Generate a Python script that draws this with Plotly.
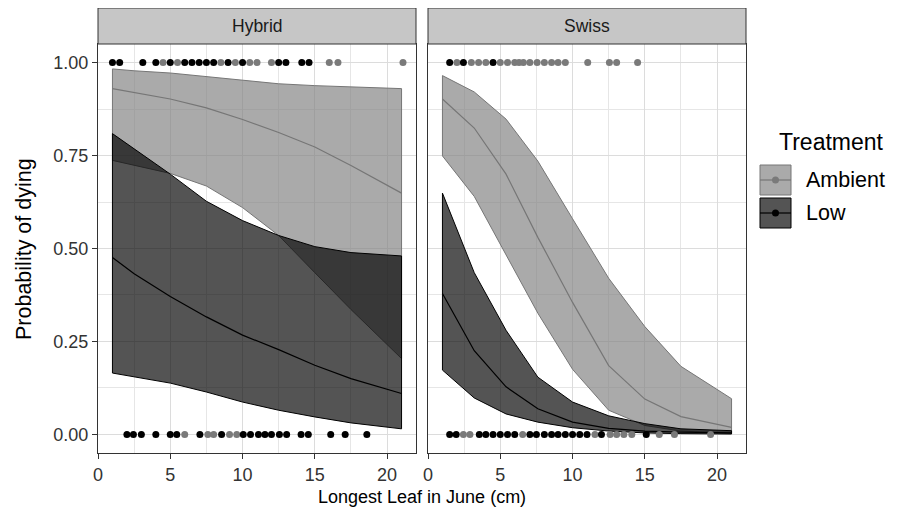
import plotly.graph_objects as go

# ---------------- data ----------------
treatments = ["Ambient", "Low"]
panels = ["Hybrid", "Swiss"]

# Observed points (x = longest leaf, y = died 0/1)
hyb_amb_dead_x = [4.5, 5.5, 8.5, 9.5, 10.5, 11.0, 12.0, 16.0, 16.6, 21.1]
hyb_low_dead_x = [1.0, 1.5, 3.1, 4.0, 5.0, 6.0, 6.5, 7.0, 7.5, 8.0, 9.0, 10.0, 12.5, 13.0, 14.1, 14.6]
hyb_amb_alive_x = [6.0, 7.6, 8.0, 9.1, 9.6]
hyb_low_alive_x = [2.0, 2.45, 3.0, 4.0, 5.0, 5.45, 7.05, 8.55, 10.05, 10.55, 11.1, 11.55, 12.0, 12.55, 13.05, 14.05, 14.55, 16.1, 17.1, 18.6]

sw_amb_dead_x = [2.0, 3.0, 3.5, 4.0, 5.0, 5.5, 6.0, 6.3, 6.6, 7.05, 7.55, 8.05, 8.55, 9.0, 9.5, 11.05, 12.55, 13.05, 14.5]
sw_low_dead_x = [1.5, 2.45, 4.5]
sw_amb_alive_x = [2.45, 2.9, 6.55, 11.55, 12.6, 13.05, 13.55, 14.1, 16.0, 17.05, 19.55]
sw_low_alive_x = [1.5, 1.95, 3.55, 4.0, 4.5, 5.0, 5.5, 6.0, 7.05, 7.5, 8.05, 8.55, 9.0, 9.5, 10.0, 10.5, 11.0, 12.0, 15.1]

# Fitted probabilities and confidence bands
hyb_grid = [1, 2.5, 5, 7.5, 10, 12.5, 15, 17.5, 21]
hyb_amb_fit = [0.930, 0.920, 0.902, 0.878, 0.847, 0.812, 0.773, 0.723, 0.649]
hyb_amb_hi = [0.983, 0.978, 0.972, 0.963, 0.954, 0.943, 0.938, 0.934, 0.930]
hyb_amb_lo = [0.737, 0.725, 0.702, 0.668, 0.610, 0.535, 0.435, 0.336, 0.204]
hyb_low_fit = [0.476, 0.432, 0.371, 0.316, 0.267, 0.228, 0.186, 0.150, 0.110]
hyb_low_hi = [0.809, 0.768, 0.700, 0.627, 0.575, 0.535, 0.505, 0.489, 0.480]
hyb_low_lo = [0.165, 0.156, 0.138, 0.114, 0.087, 0.065, 0.047, 0.031, 0.015]

sw_grid = [1, 3.2, 5.4, 7.6, 10, 12.5, 15, 17.5, 21]
sw_amb_fit = [0.902, 0.824, 0.700, 0.530, 0.355, 0.185, 0.095, 0.048, 0.019]
sw_amb_hi = [0.965, 0.921, 0.848, 0.735, 0.580, 0.420, 0.290, 0.183, 0.096]
sw_amb_lo = [0.749, 0.640, 0.485, 0.326, 0.175, 0.065, 0.024, 0.009, 0.003]
sw_low_fit = [0.379, 0.225, 0.128, 0.069, 0.033, 0.016, 0.009, 0.006, 0.004]
sw_low_hi = [0.649, 0.435, 0.280, 0.154, 0.087, 0.050, 0.029, 0.015, 0.010]
sw_low_lo = [0.173, 0.098, 0.055, 0.033, 0.018, 0.009, 0.004, 0.002, 0.001]

x_ticks = [0, 5, 10, 15, 20]
y_ticks = [0.0, 0.25, 0.5, 0.75, 1.0]
y_tick_labels = ["0.00", "0.25", "0.50", "0.75", "1.00"]

# ---------------- style ----------------
FONT = "Liberation Sans, Arial, sans-serif"
AMB_FILL = "rgba(128,128,128,0.67)"
LOW_FILL = "rgba(0,0,0,0.67)"
AMB_LINE = "#767676"
LOW_LINE = "#000000"
AMB_PT = "#7a7a7a"
LOW_PT = "#000000"
GRID = "#dcdcdc"
GRID_MINOR = "#e6e6e6"

fig = go.Figure()


def ribbon(grid, hi, lo, fill, line, xa, ya):
    fig.add_trace(go.Scatter(
        x=list(grid) + list(grid)[::-1] + [grid[0]],
        y=list(hi) + list(lo)[::-1] + [hi[0]],
        mode="lines", fill="toself", fillcolor=fill,
        line=dict(color=line, width=1), xaxis=xa, yaxis=ya,
        showlegend=False, hoverinfo="skip"))


def fitline(grid, fit, color, xa, ya):
    fig.add_trace(go.Scatter(x=grid, y=fit, mode="lines",
                             line=dict(color=color, width=1.2),
                             xaxis=xa, yaxis=ya, showlegend=False))


def pts(xs, yval, color, xa, ya):
    fig.add_trace(go.Scatter(x=xs, y=[yval] * len(xs), mode="markers",
                             marker=dict(color=color, size=7, line=dict(width=0)),
                             xaxis=xa, yaxis=ya, showlegend=False, cliponaxis=False))


# Hybrid panel
ribbon(hyb_grid, hyb_amb_hi, hyb_amb_lo, AMB_FILL, AMB_LINE, "x", "y")
ribbon(hyb_grid, hyb_low_hi, hyb_low_lo, LOW_FILL, LOW_LINE, "x", "y")
fitline(hyb_grid, hyb_amb_fit, AMB_LINE, "x", "y")
fitline(hyb_grid, hyb_low_fit, LOW_LINE, "x", "y")
pts(hyb_amb_dead_x, 1, AMB_PT, "x", "y")
pts(hyb_low_dead_x, 1, LOW_PT, "x", "y")
pts(hyb_amb_alive_x, 0, AMB_PT, "x", "y")
pts(hyb_low_alive_x, 0, LOW_PT, "x", "y")

# Swiss panel
ribbon(sw_grid, sw_amb_hi, sw_amb_lo, AMB_FILL, AMB_LINE, "x2", "y2")
ribbon(sw_grid, sw_low_hi, sw_low_lo, LOW_FILL, LOW_LINE, "x2", "y2")
fitline(sw_grid, sw_amb_fit, AMB_LINE, "x2", "y2")
fitline(sw_grid, sw_low_fit, LOW_LINE, "x2", "y2")
pts(sw_amb_dead_x, 1, AMB_PT, "x2", "y2")
pts(sw_low_dead_x, 1, LOW_PT, "x2", "y2")
pts(sw_amb_alive_x, 0, AMB_PT, "x2", "y2")
pts(sw_low_alive_x, 0, LOW_PT, "x2", "y2")

# ---------------- layout ----------------
OFF = 8  # page body margin of the browser
W, H = 901 - OFF, 515 - OFF
L = 98 - OFF
T = 44 - OFF
R = W - (746 - OFF)
B = H - (453 - OFF)
pw = W - L - R
ph = H - T - B


def px_x(p):  # page pixel -> paper x
    return (p - OFF - L) / pw


def px_y(p):  # page pixel -> paper y
    return (H - B - (p - OFF)) / ph


gap = 12 / pw
d1 = [0, (1 - gap) / 2]
d2 = [(1 + gap) / 2, 1]

tickfont = dict(family=FONT, size=18, color="#333333")
xaxis_common = dict(
    range=[0, 22], tickvals=x_ticks, ticks="outside", ticklen=5, tickwidth=1,
    tickcolor="#333333", showline=True, linecolor="#333333", linewidth=1, mirror=True,
    showgrid=True, gridcolor=GRID, gridwidth=1.2, zeroline=False, automargin=False,
    minor=dict(dtick=2.5, tick0=0, showgrid=True, gridcolor=GRID_MINOR, gridwidth=1, ticks=""),
    tickfont=tickfont,
)
yaxis_common = dict(
    range=[-0.05, 1.05], tickvals=y_ticks, ticktext=y_tick_labels,
    showline=True, linecolor="#333333", linewidth=1, mirror=True,
    showgrid=True, gridcolor=GRID, gridwidth=1.2, zeroline=False, automargin=False,
    minor=dict(dtick=0.125, tick0=0, showgrid=True, gridcolor=GRID_MINOR, gridwidth=1, ticks=""),
    tickfont=tickfont,
)

fig.update_layout(
    width=W, height=H,
    margin=dict(l=L, r=R, t=T, b=B, pad=0),
    paper_bgcolor="white", plot_bgcolor="white",
    showlegend=False,
    font=dict(family=FONT, color="#000000"),
    xaxis=dict(domain=d1, anchor="y", **xaxis_common),
    xaxis2=dict(domain=d2, anchor="y2", **xaxis_common),
    yaxis=dict(anchor="x", ticks="outside", ticklen=5, tickcolor="#333333", **yaxis_common),
    yaxis2=dict(anchor="x2", matches="y", showticklabels=False, ticks="", **yaxis_common),
)

shapes = []
annotations = []
strip_top = 1 + 36 / ph
for dom, name in [(d1, panels[0]), (d2, panels[1])]:
    shapes.append(dict(type="rect", xref="paper", yref="paper", x0=dom[0], x1=dom[1],
                       y0=1, y1=strip_top, fillcolor="#c6c6c6",
                       line=dict(color="#333333", width=1)))
    annotations.append(dict(xref="paper", yref="paper", x=(dom[0] + dom[1]) / 2,
                            y=(1 + strip_top) / 2, text=name, showarrow=False,
                            font=dict(family=FONT, size=17.5, color="#1a1a1a"),
                            xanchor="center", yanchor="middle"))

# axis titles
annotations.append(dict(xref="paper", yref="paper", x=px_x(422), y=px_y(497),
                        text="Longest Leaf in June (cm)", showarrow=False,
                        font=dict(family=FONT, size=18, color="#000"),
                        xanchor="center", yanchor="middle"))
annotations.append(dict(xref="paper", yref="paper", x=px_x(24), y=px_y(249),
                        text="Probability of dying", showarrow=False, textangle=-90,
                        font=dict(family=FONT, size=21.5, color="#000"),
                        xanchor="center", yanchor="middle"))

# legend (drawn manually)
annotations.append(dict(xref="paper", yref="paper", x=px_x(777), y=px_y(142),
                        text="Treatment", showarrow=False,
                        font=dict(family=FONT, size=23, color="#000"),
                        xanchor="left", yanchor="middle"))
keys = [(treatments[0], "#aaaaaa", AMB_LINE, AMB_PT, 165, 195),
        (treatments[1], "#545454", LOW_LINE, LOW_PT, 198, 228)]
for name, fillc, linec, ptc, ytop, ybot in keys:
    shapes.append(dict(type="rect", xref="paper", yref="paper",
                       x0=px_x(760), x1=px_x(791), y0=px_y(ybot), y1=px_y(ytop),
                       fillcolor=fillc, line=dict(color=linec, width=1)))
    yc = (ytop + ybot) / 2
    shapes.append(dict(type="line", xref="paper", yref="paper",
                       x0=px_x(760), x1=px_x(791), y0=px_y(yc), y1=px_y(yc),
                       line=dict(color=linec, width=1.2)))
    shapes.append(dict(type="circle", xref="paper", yref="paper",
                       x0=px_x(775.5 - 3.5), x1=px_x(775.5 + 3.5),
                       y0=px_y(yc + 3.5), y1=px_y(yc - 3.5),
                       fillcolor=ptc, line=dict(width=0)))
    annotations.append(dict(xref="paper", yref="paper", x=px_x(804), y=px_y(yc),
                            text=name, showarrow=False,
                            font=dict(family=FONT, size=21.5, color="#000"),
                            xanchor="left", yanchor="middle"))

fig.update_layout(shapes=shapes, annotations=annotations)
fig.write_html("out.html")
